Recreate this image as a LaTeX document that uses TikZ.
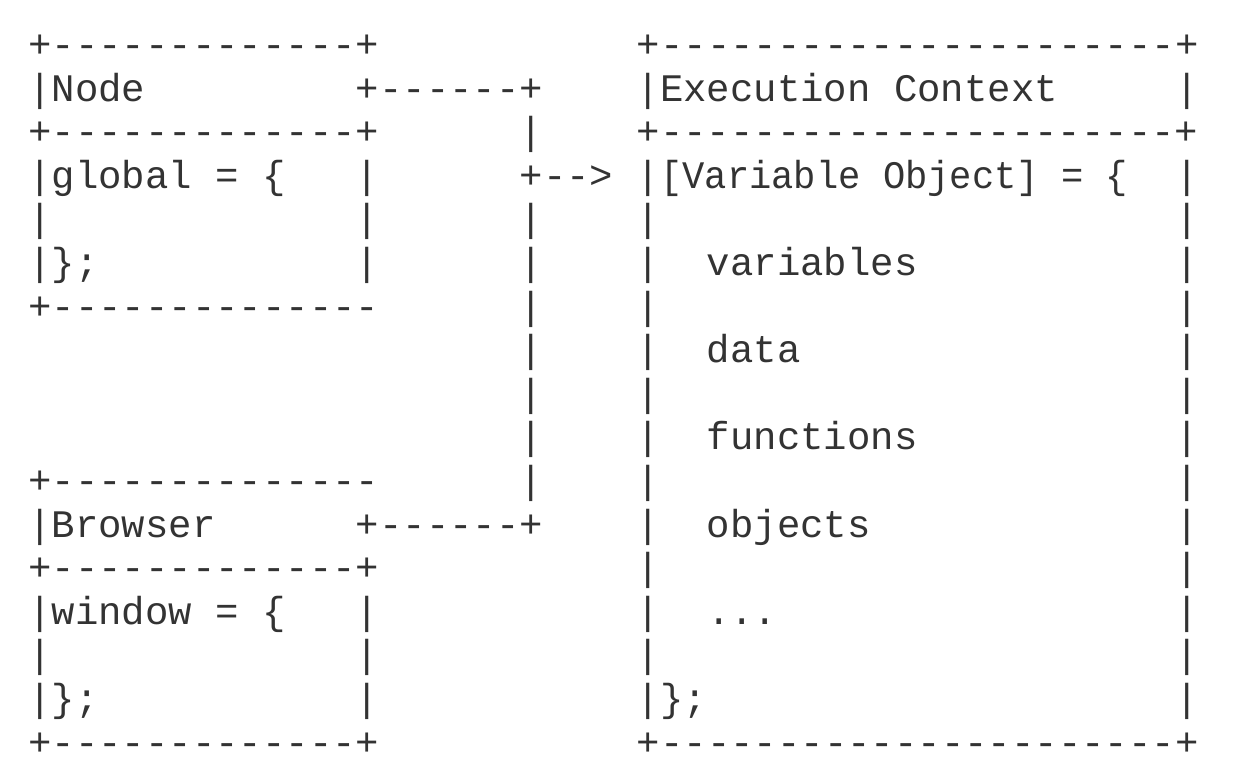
\documentclass[tikz,border=0pt]{standalone}
\usepackage{graphicx}
\usepackage{fontspec}
\setmonofont{Liberation Mono}
\begin{document}
\begin{tikzpicture}[x=1pt,y=1pt,
  asciirow/.style={anchor=base west,inner sep=0pt,outer sep=0pt,font=\ttfamily\fontsize{39}{43.6}\selectfont,text=black!80}]
\useasboundingbox (0,0) rectangle (1246,-776);
\def\lx{28.3}
\newcommand\asciiline[2]{\node[asciirow] (r#1) at (\lx,{-(44+43.6*#1+13.5)}) {#2};}
\asciiline{0}{+-------------+~~~~~~~~~~~+----------------------+}
\asciiline{1}{|Node~~~~~~~~~+------+~~~~|Execution~Context~~~~~|}
\asciiline{2}{+-------------+~~~~~~|~~~~+----------------------+}
\asciiline{3}{|global~=~\{~~~|~~~~~~+-->~|\scalebox{0.9524}[1]{[Variable~Object]~=~\{}~~|}
\asciiline{4}{|~~~~~~~~~~~~~|~~~~~~|~~~~|~~~~~~~~~~~~~~~~~~~~~~|}
\asciiline{5}{|\};~~~~~~~~~~~|~~~~~~|~~~~|~~variables~~~~~~~~~~~|}
\asciiline{6}{+--------------~~~~~~|~~~~|~~~~~~~~~~~~~~~~~~~~~~|}
\asciiline{7}{~~~~~~~~~~~~~~~~~~~~~|~~~~|~~data~~~~~~~~~~~~~~~~|}
\asciiline{8}{~~~~~~~~~~~~~~~~~~~~~|~~~~|~~~~~~~~~~~~~~~~~~~~~~|}
\asciiline{9}{~~~~~~~~~~~~~~~~~~~~~|~~~~|~~functions~~~~~~~~~~~|}
\asciiline{10}{+--------------~~~~~~|~~~~|~~~~~~~~~~~~~~~~~~~~~~|}
\asciiline{11}{|Browser~~~~~~+------+~~~~|~~objects~~~~~~~~~~~~~|}
\asciiline{12}{+-------------+~~~~~~~~~~~|~~~~~~~~~~~~~~~~~~~~~~|}
\asciiline{13}{|window~=~\{~~~|~~~~~~~~~~~|~~...~~~~~~~~~~~~~~~~~|}
\asciiline{14}{|~~~~~~~~~~~~~|~~~~~~~~~~~|~~~~~~~~~~~~~~~~~~~~~~|}
\asciiline{15}{|\};~~~~~~~~~~~|~~~~~~~~~~~|\};~~~~~~~~~~~~~~~~~~~~|}
\asciiline{16}{+-------------+~~~~~~~~~~~+----------------------+}
\end{tikzpicture}
\end{document}
